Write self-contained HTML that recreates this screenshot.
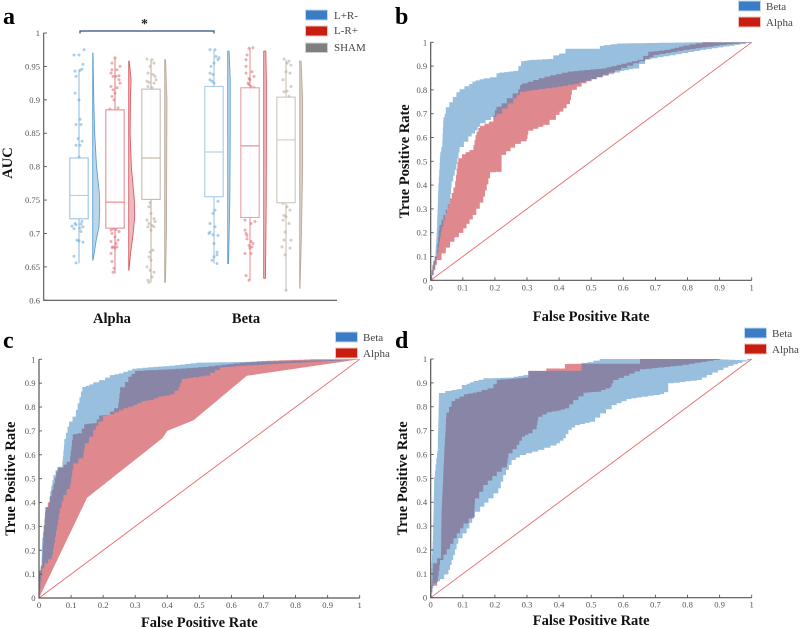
<!DOCTYPE html>
<html lang="en">
<head>
<meta charset="utf-8">
<title>AUC and ROC comparison</title>
<style>
html,body{margin:0;padding:0;background:#fff;}
svg{display:block;font-family:"Liberation Serif",serif;filter:blur(0.3px);}
.letter{font-size:24px;font-weight:bold;fill:#000;}
.title{font-size:14.5px;font-weight:bold;fill:#111;}
.tick{font-size:8.6px;fill:#555;}
.leg{font-size:11px;fill:#444;}
</style>
</head>
<body>
<svg id="chart" width="800" height="628" viewBox="0 0 800 628" xmlns="http://www.w3.org/2000/svg">
<rect width="800" height="628" fill="#fff"/>
<text class="letter" x="3" y="24">a</text>
<text class="letter" x="395" y="24">b</text>
<text class="letter" x="3" y="348">c</text>
<text class="letter" x="395" y="348">d</text>

<g id="panel-a"></g>
<g id="panel-b"></g>
<g id="panel-c"></g>
<g id="panel-d"></g>

<text class="title" transform="translate(12,163) rotate(-90)" text-anchor="middle">AUC</text>
<text class="title" x="112" y="323" text-anchor="middle">Alpha</text>
<text class="title" x="246" y="323" text-anchor="middle">Beta</text>

<path d="M80 33.5V31H214V33.5" fill="none" stroke="#2b4a7c" stroke-width="1.2"/>
<text x="144.5" y="28" text-anchor="middle" font-size="14" font-weight="bold" fill="#222">*</text>

<g>
<rect x="305.5" y="10" width="22" height="10" fill="#3a7cc5" stroke="#c3d8ec" stroke-width="1"/>
<text class="leg" x="334" y="19">L+R-</text>
<rect x="305.5" y="26" width="22" height="10" fill="#c81e10" stroke="#eec3bf" stroke-width="1"/>
<text class="leg" x="334" y="34">L-R+</text>
<rect x="305.5" y="43" width="22" height="9.5" fill="#7f7f7f" stroke="#d0d0d0" stroke-width="1"/>
<text class="leg" x="334" y="51">SHAM</text>
</g>

<g>
<rect x="738.5" y="1" width="22" height="10" fill="#3a7cc5" stroke="#c3d8ec" stroke-width="1"/>
<text class="leg" x="766" y="10">Beta</text>
<rect x="738.5" y="17" width="22" height="10" fill="#c81e10" stroke="#eec3bf" stroke-width="1"/>
<text class="leg" x="766" y="26">Alpha</text>
</g>
<g>
<rect x="335.5" y="332" width="22" height="10" fill="#3a7cc5" stroke="#c3d8ec" stroke-width="1"/>
<text class="leg" x="363" y="341">Beta</text>
<rect x="335.5" y="348" width="22" height="10" fill="#c81e10" stroke="#eec3bf" stroke-width="1"/>
<text class="leg" x="363" y="357">Alpha</text>
</g>
<g>
<rect x="744.5" y="328" width="22" height="10" fill="#3a7cc5" stroke="#c3d8ec" stroke-width="1"/>
<text class="leg" x="772" y="337">Beta</text>
<rect x="744.5" y="344" width="22" height="10" fill="#c81e10" stroke="#eec3bf" stroke-width="1"/>
<text class="leg" x="772" y="353">Alpha</text>
</g>
</svg>

<script>
// ---------- Panel a data ----------
const aTickLabels = ["0.6","0.65","0.7","0.75","0.8","0.85","0.9","0.95","1"];
const aTickValues = [0.6,0.65,0.7,0.75,0.8,0.85,0.9,0.95,1];
const seriesNames = ["alpha-l-plus-r-minus","alpha-l-minus-r-plus","alpha-sham","beta-l-plus-r-minus","beta-l-minus-r-plus","beta-sham"];
const boxQ1 =     [0.722,0.708,0.751,0.755,0.724,0.746];
const boxMedian = [0.757,0.747,0.813,0.822,0.831,0.840];
const boxQ3 =     [0.813,0.885,0.916,0.920,0.918,0.904];
const whiskerLow =  [0.655,0.640,0.627,0.655,0.630,0.615];
const whiskerHigh = [0.945,0.963,0.960,0.975,0.978,0.960];

const pointValues = [
 [0.967,0.967,0.975,0.953,0.943,0.944,0.946,0.935,0.91,0.9,0.871,0.863,0.863,0.842,0.838,0.832,0.832,0.814,0.718,0.715,0.714,0.713,0.711,0.71,0.708,0.707,0.703,0.69,0.689,0.687,0.666,0.656],
 [0.963,0.955,0.95,0.945,0.945,0.94,0.936,0.935,0.935,0.93,0.925,0.92,0.918,0.915,0.91,0.905,0.9,0.888,0.886,0.707,0.706,0.705,0.703,0.7,0.695,0.69,0.688,0.685,0.68,0.68,0.679,0.678,0.67,0.658,0.648,0.642],
 [0.961,0.96,0.955,0.95,0.94,0.938,0.935,0.93,0.928,0.926,0.925,0.92,0.918,0.746,0.74,0.73,0.72,0.722,0.718,0.715,0.712,0.71,0.71,0.705,0.675,0.672,0.665,0.66,0.65,0.645,0.642,0.635,0.63,0.627],
 [0.975,0.975,0.965,0.963,0.96,0.955,0.95,0.94,0.938,0.93,0.928,0.925,0.748,0.735,0.73,0.715,0.71,0.702,0.7,0.698,0.697,0.685,0.672,0.668,0.665,0.66,0.655],
 [0.978,0.977,0.967,0.96,0.95,0.942,0.94,0.935,0.932,0.93,0.925,0.923,0.92,0.918,0.72,0.718,0.715,0.705,0.7,0.697,0.692,0.688,0.685,0.682,0.68,0.678,0.67,0.67,0.637,0.63],
 [0.961,0.958,0.955,0.952,0.942,0.94,0.93,0.92,0.913,0.912,0.905,0.745,0.74,0.735,0.727,0.725,0.72,0.715,0.702,0.69,0.69,0.68,0.678,0.668,0.615]
];
const pointJitter = [
 [-5,0,5,4,-4,1,3,-3,-4,0,1,-3,2,-1,3,-3,1,0,3,-4,2,-3,-7,4,1,-5,2,-2,0,4,-5,-3],
 [0,-3,5,-3,2,-4,4,1,-2,4,5,-4,2,-2,0,-3,-1,3,-5,-2,1,-4,4,-3,0,3,-4,1,-2,2,-3,0,-4,-3,-1,-2],
 [-4,1,3,-1,-3,2,4,5,-4,-2,3,-3,1,-1,-2,0,-4,3,4,-2,1,-3,3,0,2,-1,-2,0,-4,-1,3,1,-3,-2],
 [-4,1,2,5,4,0,-3,-4,-1,-4,-2,0,4,1,-1,-4,1,-4,-5,-1,4,0,3,3,0,-2,3],
 [3,-1,-3,-4,-4,2,-4,4,-1,0,-2,-1,1,4,-5,5,1,-5,-4,-3,-3,1,3,-1,2,0,-5,1,-4,-1],
 [-2,3,1,5,0,4,-3,5,1,-2,3,-3,1,4,-2,0,-3,3,-1,-2,5,-4,4,-1,0]
];
const violinLevels = [
 [0.66,0.69,0.71,0.735,0.76,0.80,0.85,0.90,0.97],
 [0.645,0.67,0.70,0.725,0.75,0.80,0.85,0.90,0.93,0.958],
 [0.627,0.70,0.80,0.90,0.96],
 [0.655,0.75,0.85,0.93,0.973],
 [0.633,0.75,0.85,0.93,0.973],
 [0.618,0.70,0.80,0.90,0.958]
];
const violinDensity = [
 [0.05,0.5,0.9,1,0.95,0.55,0.28,0.15,0.05],
 [0.04,0.26,0.64,0.86,0.8,0.38,0.2,0.25,0.34,0.08],
 [0.1,0.25,0.28,0.32,0.12],
 [0.12,0.3,0.36,0.36,0.2],
 [0.25,0.36,0.38,0.38,0.3],
 [0.05,0.25,0.42,0.42,0.2]
];

// ---------- ROC data: [false positive rate, true positive rate] ----------
const rocTickLabels = ["0","0.1","0.2","0.3","0.4","0.5","0.6","0.7","0.8","0.9","1"];
const rocTickValues = [0,0.1,0.2,0.3,0.4,0.5,0.6,0.7,0.8,0.9,1];
const diagonal = [[0,0],[1,1]];

const bBetaUpper = [[0,0],[0.008,0.057],[0.015,0.1],[0.02,0.22],[0.024,0.38],[0.03,0.52],[0.036,0.56],[0.04,0.67],[0.047,0.70],[0.058,0.727],[0.08,0.77],[0.09,0.79],[0.12,0.815],[0.14,0.835],[0.165,0.845],[0.205,0.853],[0.213,0.87],[0.273,0.88],[0.29,0.92],[0.313,0.925],[0.382,0.93],[0.40,0.945],[0.42,0.953],[0.437,0.973],[0.527,0.973],[0.54,0.985],[0.6,0.995],[0.83,1],[1,1]];
const bBetaLower = [[1,1],[0.84,0.968],[0.668,0.928],[0.631,0.89],[0.59,0.88],[0.517,0.853],[0.445,0.825],[0.377,0.81],[0.278,0.793],[0.257,0.765],[0.205,0.70],[0.154,0.66],[0.138,0.63],[0.117,0.604],[0.09,0.56],[0.08,0.49],[0.065,0.415],[0.06,0.337],[0.045,0.28],[0.034,0.225],[0.024,0.14],[0.013,0.07],[0,0]];
const bAlphaUpper = [[0,0],[0.008,0.065],[0.019,0.1],[0.027,0.21],[0.04,0.254],[0.06,0.32],[0.076,0.39],[0.086,0.495],[0.109,0.53],[0.133,0.547],[0.143,0.61],[0.154,0.64],[0.195,0.667],[0.205,0.715],[0.237,0.744],[0.273,0.785],[0.284,0.82],[0.372,0.856],[0.445,0.877],[0.548,0.89],[0.61,0.91],[0.662,0.926],[0.694,0.96],[0.746,0.968],[0.787,0.982],[0.865,1],[1,1]];
const bAlphaLower = [[1,1],[0.90,0.989],[0.787,0.968],[0.694,0.947],[0.668,0.928],[0.631,0.912],[0.517,0.853],[0.47,0.828],[0.44,0.80],[0.434,0.758],[0.413,0.723],[0.39,0.695],[0.351,0.653],[0.304,0.629],[0.299,0.594],[0.263,0.573],[0.221,0.527],[0.221,0.457],[0.185,0.454],[0.164,0.352],[0.131,0.275],[0.102,0.218],[0.06,0.162],[0.034,0.113],[0.019,0.085],[0,0]];

const cBetaUpper = [[0,0],[0.002,0.096],[0.008,0.13],[0.01,0.229],[0.017,0.30],[0.021,0.38],[0.031,0.38],[0.035,0.425],[0.045,0.494],[0.058,0.536],[0.073,0.55],[0.079,0.641],[0.094,0.718],[0.115,0.76],[0.126,0.816],[0.135,0.865],[0.146,0.884],[0.169,0.895],[0.206,0.913],[0.235,0.934],[0.263,0.941],[0.305,0.96],[0.341,0.965],[0.424,0.973],[0.507,0.986],[0.71,0.99],[0.866,0.995],[1,1]];
const cBetaLower = [[1,1],[0.627,0.973],[0.564,0.966],[0.518,0.932],[0.445,0.918],[0.435,0.883],[0.409,0.853],[0.372,0.844],[0.346,0.83],[0.32,0.825],[0.294,0.809],[0.263,0.795],[0.221,0.77],[0.2,0.763],[0.185,0.739],[0.169,0.704],[0.143,0.648],[0.138,0.606],[0.107,0.564],[0.097,0.48],[0.076,0.432],[0.065,0.376],[0.05,0.257],[0.04,0.18],[0.017,0.145],[0.01,0.124],[0.002,0.04],[0,0]];
const cAlphaUpper = [[0,0],[0.002,0.096],[0.01,0.138],[0.015,0.278],[0.021,0.362],[0.034,0.40],[0.045,0.453],[0.058,0.529],[0.076,0.546],[0.097,0.571],[0.107,0.683],[0.133,0.69],[0.149,0.728],[0.18,0.732],[0.195,0.764],[0.221,0.767],[0.247,0.795],[0.253,0.858],[0.268,0.883],[0.289,0.927],[0.31,0.951],[0.445,0.96],[0.528,0.968],[0.627,0.983],[0.679,0.99],[0.71,0.993],[0.866,1],[1,1]];
const cAlphaLower = [[1,1],[0.648,0.931],[0.482,0.745],[0.4,0.70],[0.385,0.67],[0.15,0.42],[0,0]];

const dBetaUpper = [[0,0],[0.003,0.123],[0.007,0.235],[0.011,0.479],[0.022,0.612],[0.026,0.849],[0.065,0.866],[0.097,0.874],[0.112,0.891],[0.133,0.902],[0.18,0.919],[0.258,0.922],[0.304,0.933],[0.309,0.95],[0.47,0.95],[0.47,0.98],[0.507,0.987],[0.546,1],[0.89,1],[0.985,0.995],[1,1]];
const dBetaLower = [[1,1],[0.985,0.995],[0.943,0.978],[0.912,0.964],[0.86,0.933],[0.829,0.912],[0.74,0.898],[0.74,0.87],[0.714,0.853],[0.657,0.842],[0.61,0.832],[0.564,0.807],[0.528,0.772],[0.496,0.737],[0.45,0.723],[0.429,0.703],[0.413,0.668],[0.392,0.647],[0.335,0.619],[0.278,0.598],[0.252,0.577],[0.226,0.514],[0.211,0.458],[0.18,0.416],[0.154,0.381],[0.138,0.36],[0.112,0.29],[0.086,0.249],[0.07,0.179],[0.055,0.116],[0.029,0.078],[0.008,0.06],[0,0]];
const dAlphaUpper = [[0,0],[0.005,0.053],[0.007,0.123],[0.02,0.144],[0.032,0.165],[0.034,0.346],[0.043,0.612],[0.049,0.751],[0.065,0.80],[0.076,0.824],[0.117,0.852],[0.159,0.863],[0.195,0.877],[0.216,0.912],[0.304,0.922],[0.309,0.95],[0.36,0.95],[0.36,0.96],[0.418,0.96],[0.424,0.979],[0.47,0.98],[0.652,0.98],[0.652,1],[0.9,1]];
const dAlphaLower = [[0.9,1],[0.766,0.972],[0.652,0.957],[0.602,0.93],[0.569,0.912],[0.559,0.884],[0.517,0.863],[0.476,0.859],[0.444,0.828],[0.418,0.793],[0.392,0.784],[0.361,0.777],[0.335,0.758],[0.33,0.723],[0.304,0.689],[0.284,0.675],[0.268,0.64],[0.242,0.605],[0.237,0.563],[0.206,0.528],[0.164,0.472],[0.138,0.416],[0.135,0.353],[0.102,0.311],[0.071,0.249],[0.029,0.158],[0.027,0.137],[0.02,0.065],[0.02,0.05],[0.005,0.05],[0,0]];

// ---------- Drawing ----------
const NS = "http://www.w3.org/2000/svg";
function add(parent, tag, attrs, text) {
  const el = document.createElementNS(NS, tag);
  for (const k in attrs) el.setAttribute(k, attrs[k]);
  if (text !== undefined) el.textContent = text;
  parent.appendChild(el);
  return el;
}
const axisColor = "#555";

// Turns a boundary into the staircase an empirical ROC curve follows.
function stairs(points) {
  const out = [points[0]];
  for (let i = 1; i < points.length; i++) {
    const p = points[i - 1], q = points[i];
    const n = Math.max(1, Math.ceil(Math.max(Math.abs(q[0] - p[0]) / 0.02, Math.abs(q[1] - p[1]) / 0.028)));
    for (let k = 1; k <= n; k++) {
      const xa = p[0] + (q[0] - p[0]) * (k - 1) / n;
      const xb = p[0] + (q[0] - p[0]) * k / n;
      const yb = p[1] + (q[1] - p[1]) * k / n;
      out.push([xa, yb]);
      out.push([xb, yb]);
    }
  }
  return out;
}

// Panel a
(function () {
  const g = document.getElementById("panel-a");
  const y = v => 300.3 - (v - 0.6) / 0.4 * 267.3;
  const centers = [79, 115, 151, 214, 250, 286];
  const violinOffset = 13.7;
  const unit = 7;
  const boxW = 18.4;
  const pointFill = ["#6aa6d6","#dc6a72","#b3a797","#6aa6d6","#dc6a72","#b3a797"];
  const boxStroke = ["#9cc4e4","#e98f95","#c6bcb0","#a8cbe8","#ec9fa4","#cdc5ba"];
  const medianStroke = ["#a5cbe6","#e8757d","#b8ab9b","#a5cbe6","#e8757d","#cdc3b6"];
  const vStroke = ["#5f9fd2","#dc5a63","#b7aa9b","#5f9fd2","#dc5a63","#b7aa9b"];
  const vFill = ["#bcd7ea","#ebbcbf","#d8d0c6","#bcd7ea","#ebbcbf","#d8d0c6"];

  seriesNames.forEach((name, i) => {
    const cx = centers[i];
    const s = add(g, "g", {});
    
    

    const wh = add(s, "line", {x1: cx, x2: cx, y1: y(whiskerLow[i]), y2: y(whiskerHigh[i]), stroke: boxStroke[i], "stroke-width": 1.2});
    
    

    pointValues[i].forEach((v, j) => {
      const c = add(s, "circle", {cx: cx + pointJitter[i][j], cy: y(v), r: 1.5, fill: pointFill[i], "fill-opacity": 0.55});
      
      
    });

    const box = add(s, "rect", {x: cx - boxW / 2, y: y(boxQ3[i]), width: boxW, height: y(boxQ1[i]) - y(boxQ3[i]), fill: "#fff", "fill-opacity": 0.93, stroke: boxStroke[i], "stroke-width": 1.1});
    
    

    const med = add(s, "line", {x1: cx - boxW / 2, x2: cx + boxW / 2, y1: y(boxMedian[i]), y2: y(boxMedian[i]), stroke: medianStroke[i], "stroke-width": 1});
    
    

    const vx = cx + violinOffset;
    const lv = violinLevels[i], dn = violinDensity[i];
    let d = "M" + vx + " " + y(lv[0]);
    lv.forEach((v, j) => { d += "L" + (vx + dn[j] * unit) + " " + y(v); });
    d += "L" + vx + " " + y(lv[lv.length - 1]) + "Z";
    const vi = add(s, "path", {d: d, fill: vFill[i], stroke: vStroke[i], "stroke-width": 0.9, "stroke-linejoin": "round"});
    
    
  });

  const ax = add(g, "path", {d: "M43.7 33V300.3H337", fill: "none", stroke: axisColor, "stroke-width": 1.1});
  
  

  aTickValues.forEach((v, i) => {
    const t = add(g, "line", {x1: 43.7, x2: 47, y1: y(v), y2: y(v), stroke: axisColor, "stroke-width": 0.9});
    
    
    const l = add(g, "text", {x: 40, y: y(v) + 3, "text-anchor": "end", "class": "tick"}, aTickLabels[i]);
    
    
  });
})();

// ROC panels
function drawRoc(id, box, betaUpper, betaLower, alphaUpper, alphaLower, alphaLowerSmooth, xTitleY, yTitleX) {
  const g = document.getElementById(id);
  const x = v => box.x0 + v * (box.x1 - box.x0);
  const y = v => box.y0 + v * (box.y1 - box.y0);
  const poly = (a, b) => a.concat(b).map(p => x(p[0]).toFixed(1) + "," + y(p[1]).toFixed(1)).join(" ");

  const ab = add(g, "polygon", {points: poly(stairs(alphaUpper), alphaLowerSmooth ? alphaLower : stairs(alphaLower)), fill: "rgb(192,20,30)", "fill-opacity": 0.5});
  
  

  const bb = add(g, "polygon", {points: poly(stairs(betaUpper), stairs(betaLower)), fill: "rgb(50,130,190)", "fill-opacity": 0.5});
  
  

  const dg = add(g, "line", {x1: x(diagonal[0][0]), y1: y(diagonal[0][1]), x2: x(diagonal[1][0]), y2: y(diagonal[1][1]), stroke: "#e8686c", "stroke-width": 0.9});
  
  

  const ax = add(g, "path", {d: "M" + box.x0 + " " + box.y1 + "V" + box.y0 + "H" + box.x1, fill: "none", stroke: axisColor, "stroke-width": 1.2});
  
  

  rocTickValues.forEach((v, i) => {
    const tx = add(g, "line", {x1: x(v), x2: x(v), y1: box.y0, y2: box.y0 - 3, stroke: axisColor, "stroke-width": 0.9});
    
    
    const ty = add(g, "line", {x1: box.x0, x2: box.x0 + 3, y1: y(v), y2: y(v), stroke: axisColor, "stroke-width": 0.9});
    
    
    const lx = add(g, "text", {x: x(v), y: box.y0 + 10, "text-anchor": "middle", "class": "tick"}, rocTickLabels[i]);
    
    
    const ly = add(g, "text", {x: box.x0 - 3.5, y: y(v) + 3, "text-anchor": "end", "class": "tick"}, rocTickLabels[i]);
    
    
  });

  const xt = add(g, "text", {x: (box.x0 + box.x1) / 2, y: xTitleY, "text-anchor": "middle", "class": "title"}, "False Positive Rate");
  
  
  const yt = add(g, "text", {transform: "translate(" + yTitleX + "," + (box.y0 + box.y1) / 2 + ") rotate(-90)", "text-anchor": "middle", "class": "title"}, "True Positive Rate");
  
  
}

drawRoc("panel-b", {x0: 430.7, x1: 751.7, y0: 280.3, y1: 42.3}, bBetaUpper, bBetaLower, bAlphaUpper, bAlphaLower, false, 321, 409);
drawRoc("panel-c", {x0: 39, x1: 359.7, y0: 598, y1: 359.3}, cBetaUpper, cBetaLower, cAlphaUpper, cAlphaLower, true, 627, 15);
drawRoc("panel-d", {x0: 430.7, x1: 751.7, y0: 597.7, y1: 359}, dBetaUpper, dBetaLower, dAlphaUpper, dAlphaLower, false, 625, 407);
</script>
</body>
</html>
